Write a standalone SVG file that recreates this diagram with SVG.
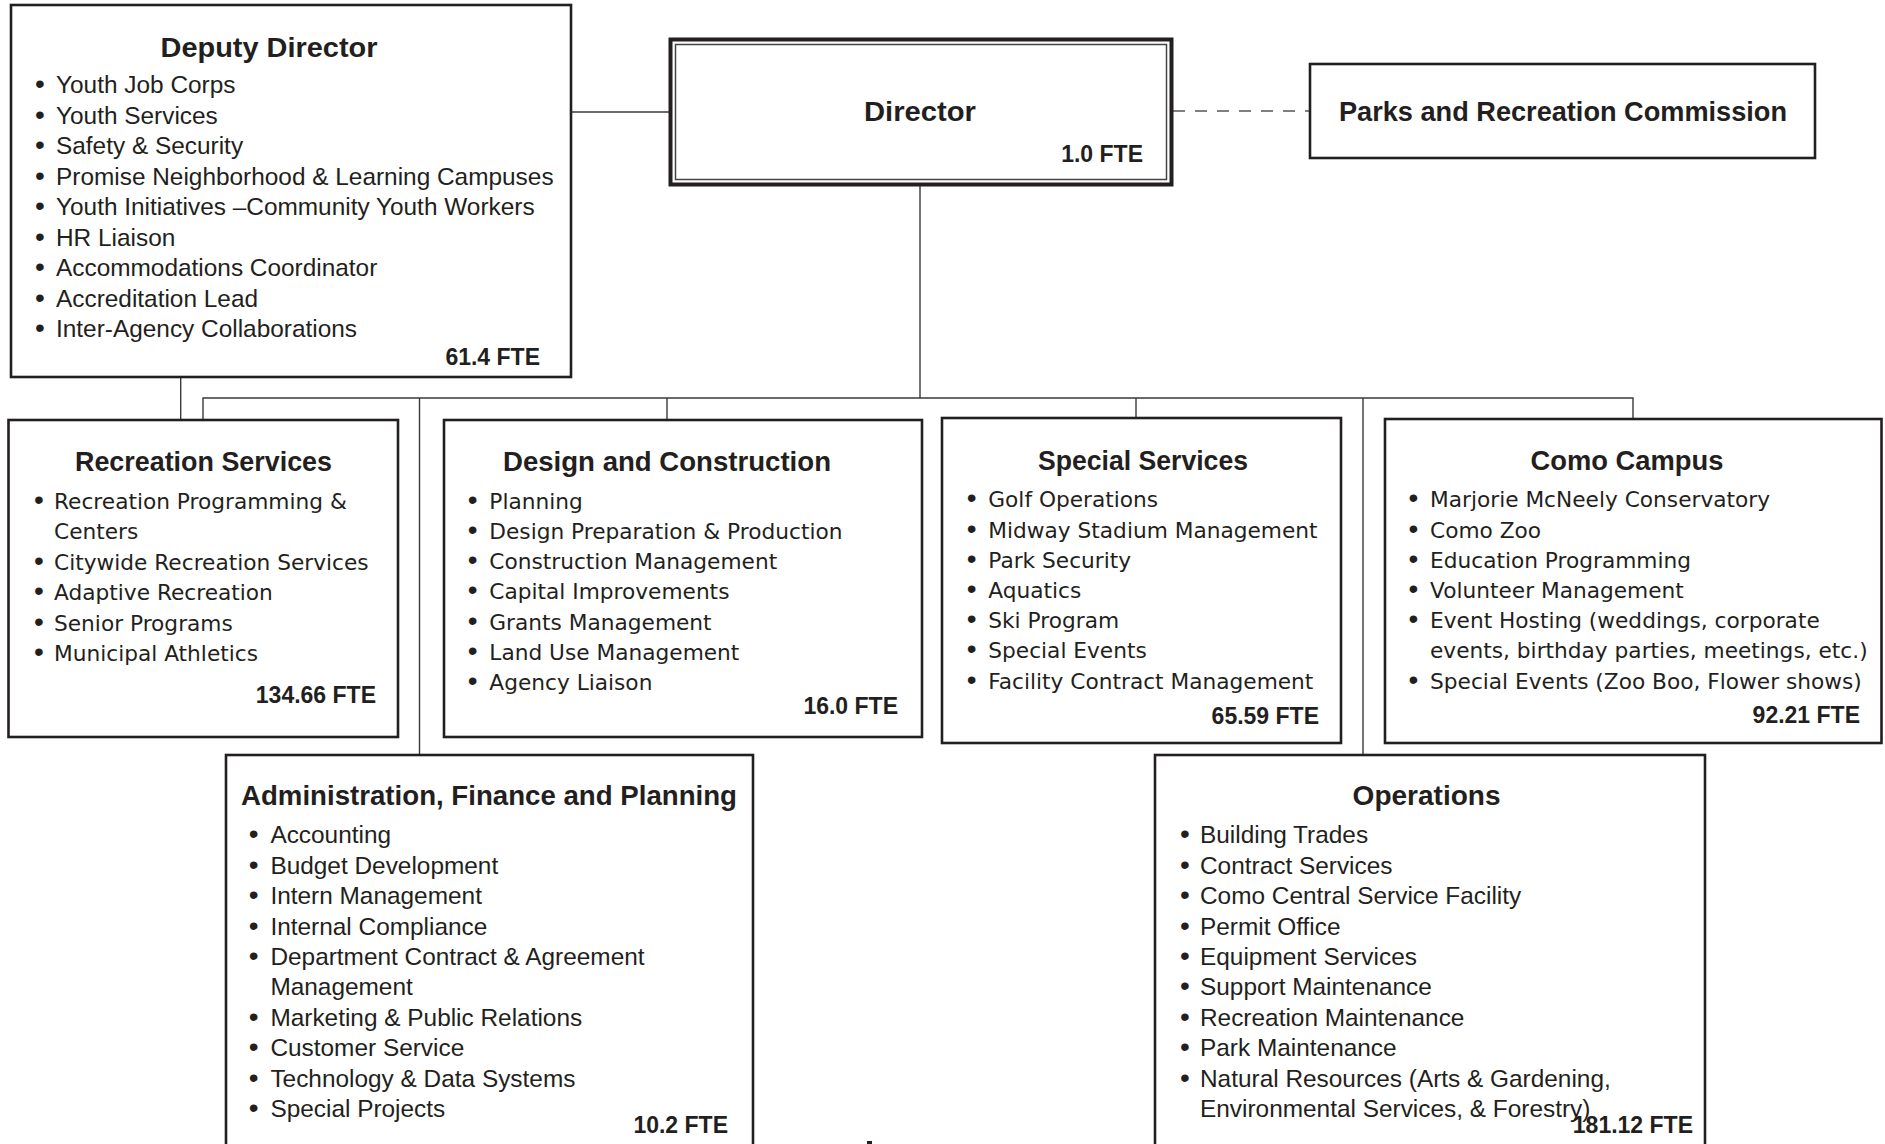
<svg xmlns="http://www.w3.org/2000/svg" width="1885" height="1144" viewBox="0 0 1885 1144">
<style>
.box{fill:#fff;stroke:#231f20;stroke-width:2.6}
.conn{stroke:#3a3a3a;stroke-width:1.4;fill:none}
.dash{stroke:#555;stroke-width:1.6;stroke-dasharray:12 10;fill:none}
.t{font-family:"Liberation Sans",Arial,sans-serif;font-weight:bold;font-size:28px;fill:#231f20;text-anchor:middle}
.fte{font-family:"Liberation Sans",Arial,sans-serif;font-weight:bold;font-size:23px;fill:#231f20;text-anchor:end}
.w{font-family:"DejaVu Sans",sans-serif;font-size:21.7px;fill:#231f20}
.n{font-family:"Liberation Sans",Arial,sans-serif;font-size:24.4px;fill:#231f20}
.b{text-anchor:middle;font-family:"Liberation Sans",Arial,sans-serif;font-size:28px}
</style>
<rect width="1885" height="1144" fill="#fff"/>
<g id="connectors">
<line class="conn" x1="571" y1="112" x2="669" y2="112"/>
<line class="dash" x1="1173" y1="111" x2="1310" y2="111"/>
<line class="conn" x1="920" y1="186" x2="920" y2="398"/>
<polyline class="conn" points="203,420 203,398 1633,398 1633,419"/>
<line class="conn" x1="667" y1="398" x2="667" y2="420"/>
<line class="conn" x1="1136" y1="398" x2="1136" y2="418"/>
<line class="conn" x1="419.5" y1="398" x2="419.5" y2="755"/>
<line class="conn" x1="1363" y1="398" x2="1363" y2="755"/>
<line class="conn" x1="180.7" y1="377" x2="180.7" y2="420"/>
</g>
<g id="deputy-director">
<rect class="box" x="11" y="5" width="560" height="372"/>
<text class="t" x="269" y="57" textLength="217" lengthAdjust="spacingAndGlyphs">Deputy Director</text>
<g class="n">
<text class="b" x="40" y="93">•</text><text x="56" y="93">Youth Job Corps</text>
<text class="b" x="40" y="123.5">•</text><text x="56" y="123.5">Youth Services</text>
<text class="b" x="40" y="154">•</text><text x="56" y="154">Safety &amp; Security</text>
<text class="b" x="40" y="184.5">•</text><text x="56" y="184.5">Promise Neighborhood &amp; Learning Campuses</text>
<text class="b" x="40" y="215">•</text><text x="56" y="215">Youth Initiatives –Community Youth Workers</text>
<text class="b" x="40" y="245.5">•</text><text x="56" y="245.5">HR Liaison</text>
<text class="b" x="40" y="276">•</text><text x="56" y="276">Accommodations Coordinator</text>
<text class="b" x="40" y="306.5">•</text><text x="56" y="306.5">Accreditation Lead</text>
<text class="b" x="40" y="337">•</text><text x="56" y="337">Inter-Agency Collaborations</text>
</g>
<text class="fte" x="540" y="365">61.4 FTE</text>
</g>
<g id="director">
<rect x="670.5" y="39.5" width="501" height="145" fill="#fff" stroke="#231f20" stroke-width="4"/>
<rect x="675.5" y="44.5" width="491" height="135" fill="none" stroke="#444" stroke-width="1.5"/>
<text class="t" x="920" y="121" textLength="112" lengthAdjust="spacingAndGlyphs">Director</text>
<text class="fte" x="1143" y="162">1.0 FTE</text>
</g>
<g id="parks-commission">
<rect class="box" x="1310" y="64" width="505" height="94"/>
<text class="t" x="1563" y="121" textLength="448" lengthAdjust="spacingAndGlyphs">Parks and Recreation Commission</text>
</g>
<g id="recreation-services">
<rect class="box" x="8.5" y="420" width="389.5" height="317"/>
<text class="t" x="203.5" y="471" textLength="257" lengthAdjust="spacingAndGlyphs">Recreation Services</text>
<g class="w">
<text class="b" x="39" y="509">•</text><text x="54" y="509">Recreation Programming &amp;</text>
<text x="54" y="539.4">Centers</text>
<text class="b" x="39" y="569.8">•</text><text x="54" y="569.8">Citywide Recreation Services</text>
<text class="b" x="39" y="600.2">•</text><text x="54" y="600.2">Adaptive Recreation</text>
<text class="b" x="39" y="630.6">•</text><text x="54" y="630.6">Senior Programs</text>
<text class="b" x="39" y="661">•</text><text x="54" y="661">Municipal Athletics</text>
</g>
<text class="fte" x="376" y="703">134.66 FTE</text>
</g>
<g id="design-construction">
<rect class="box" x="444" y="420" width="478" height="317"/>
<text class="t" x="667" y="471" textLength="328" lengthAdjust="spacingAndGlyphs">Design and Construction</text>
<g class="w">
<text class="b" x="472.7" y="508.5">•</text><text x="489.3" y="508.5">Planning</text>
<text class="b" x="472.7" y="538.8">•</text><text x="489.3" y="538.8">Design Preparation &amp; Production</text>
<text class="b" x="472.7" y="569.1">•</text><text x="489.3" y="569.1">Construction Management</text>
<text class="b" x="472.7" y="599.4">•</text><text x="489.3" y="599.4">Capital Improvements</text>
<text class="b" x="472.7" y="629.7">•</text><text x="489.3" y="629.7">Grants Management</text>
<text class="b" x="472.7" y="660">•</text><text x="489.3" y="660">Land Use Management</text>
<text class="b" x="472.7" y="690.3">•</text><text x="489.3" y="690.3">Agency Liaison</text>
</g>
<text class="fte" x="898" y="714">16.0 FTE</text>
</g>
<g id="special-services">
<rect class="box" x="942" y="418" width="399" height="325"/>
<text class="t" x="1143" y="470" textLength="210" lengthAdjust="spacingAndGlyphs">Special Services</text>
<g class="w">
<text class="b" x="971.7" y="507.3">•</text><text x="988.3" y="507.3">Golf Operations</text>
<text class="b" x="971.7" y="537.5">•</text><text x="988.3" y="537.5">Midway Stadium Management</text>
<text class="b" x="971.7" y="567.7">•</text><text x="988.3" y="567.7">Park Security</text>
<text class="b" x="971.7" y="597.9">•</text><text x="988.3" y="597.9">Aquatics</text>
<text class="b" x="971.7" y="628.1">•</text><text x="988.3" y="628.1">Ski Program</text>
<text class="b" x="971.7" y="658.3">•</text><text x="988.3" y="658.3">Special Events</text>
<text class="b" x="971.7" y="688.5">•</text><text x="988.3" y="688.5">Facility Contract Management</text>
</g>
<text class="fte" x="1319" y="724">65.59 FTE</text>
</g>
<g id="como-campus">
<rect class="box" x="1385" y="419" width="496.5" height="324"/>
<text class="t" x="1627" y="470" textLength="193" lengthAdjust="spacingAndGlyphs">Como Campus</text>
<g class="w">
<text class="b" x="1413.3" y="507.3">•</text><text x="1430" y="507.3">Marjorie McNeely Conservatory</text>
<text class="b" x="1413.3" y="537.5">•</text><text x="1430" y="537.5">Como Zoo</text>
<text class="b" x="1413.3" y="567.7">•</text><text x="1430" y="567.7">Education Programming</text>
<text class="b" x="1413.3" y="597.9">•</text><text x="1430" y="597.9">Volunteer Management</text>
<text class="b" x="1413.3" y="628.1">•</text><text x="1430" y="628.1">Event Hosting (weddings, corporate</text>
<text x="1430" y="658.3">events, birthday parties, meetings, etc.)</text>
<text class="b" x="1413.3" y="688.5">•</text><text x="1430" y="688.5">Special Events (Zoo Boo, Flower shows)</text>
</g>
<text class="fte" x="1860" y="723">92.21 FTE</text>
</g>
<g id="admin-finance-planning">
<rect class="box" x="226" y="755" width="527" height="420"/>
<text class="t" x="489" y="805" textLength="496" lengthAdjust="spacingAndGlyphs">Administration, Finance and Planning</text>
<g class="n">
<text class="b" x="253.6" y="843.3">•</text><text x="270.4" y="843.3">Accounting</text>
<text class="b" x="253.6" y="873.7">•</text><text x="270.4" y="873.7">Budget Development</text>
<text class="b" x="253.6" y="904.1">•</text><text x="270.4" y="904.1">Intern Management</text>
<text class="b" x="253.6" y="934.5">•</text><text x="270.4" y="934.5">Internal Compliance</text>
<text class="b" x="253.6" y="964.9">•</text><text x="270.4" y="964.9">Department Contract &amp; Agreement</text>
<text x="270.4" y="995.3">Management</text>
<text class="b" x="253.6" y="1025.7">•</text><text x="270.4" y="1025.7">Marketing &amp; Public Relations</text>
<text class="b" x="253.6" y="1056.1">•</text><text x="270.4" y="1056.1">Customer Service</text>
<text class="b" x="253.6" y="1086.5">•</text><text x="270.4" y="1086.5">Technology &amp; Data Systems</text>
<text class="b" x="253.6" y="1116.9">•</text><text x="270.4" y="1116.9">Special Projects</text>
</g>
<text class="fte" x="728" y="1133">10.2 FTE</text>
</g>
<g id="operations">
<rect class="box" x="1155" y="755" width="550" height="420"/>
<text class="t" x="1426.6" y="805" textLength="148" lengthAdjust="spacingAndGlyphs">Operations</text>
<g class="n">
<text class="b" x="1185" y="843.3">•</text><text x="1200" y="843.3">Building Trades</text>
<text class="b" x="1185" y="873.7">•</text><text x="1200" y="873.7">Contract Services</text>
<text class="b" x="1185" y="904.1">•</text><text x="1200" y="904.1">Como Central Service Facility</text>
<text class="b" x="1185" y="934.5">•</text><text x="1200" y="934.5">Permit Office</text>
<text class="b" x="1185" y="964.9">•</text><text x="1200" y="964.9">Equipment Services</text>
<text class="b" x="1185" y="995.3">•</text><text x="1200" y="995.3">Support Maintenance</text>
<text class="b" x="1185" y="1025.7">•</text><text x="1200" y="1025.7">Recreation Maintenance</text>
<text class="b" x="1185" y="1056.1">•</text><text x="1200" y="1056.1">Park Maintenance</text>
<text class="b" x="1185" y="1086.5">•</text><text x="1200" y="1086.5">Natural Resources (Arts &amp; Gardening,</text>
<text x="1200" y="1116.9">Environmental Services, &amp; Forestry)</text>
</g>
<text class="fte" x="1693" y="1133">181.12 FTE</text>
</g>
<rect x="867" y="1141" width="5" height="3" fill="#231f20"/>
</svg>
